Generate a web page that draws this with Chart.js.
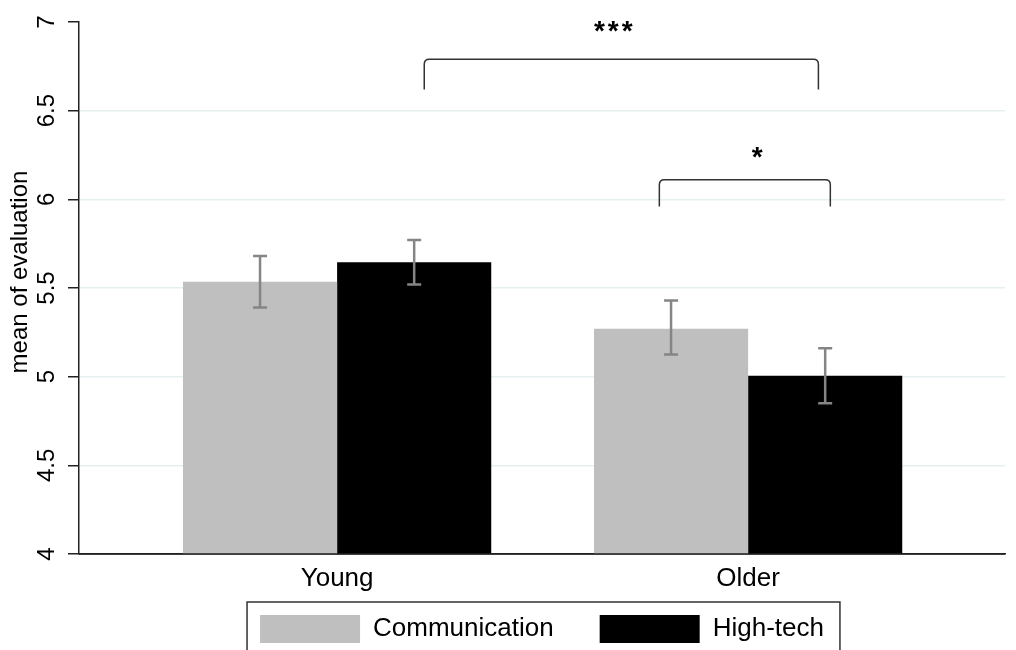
<!DOCTYPE html>
<html lang="en">
<head>
  <meta charset="UTF-8" />
  <title>Mean of evaluation by age</title>
  <script src="https://cdn.jsdelivr.net/npm/chart.js"></script>
  <style>
    html, body { margin: 0; padding: 0; background: #fff; }
    #wrap { width: 1016px; height: 650px; }
  </style>
</head>
<body>
  <div id="wrap"><canvas id="evalChart"></canvas></div>

  <script>
    const categories = ['Young', 'Older'];
    const seriesNames = ['Communication', 'High-tech'];
    const communication = [5.535, 5.27];
    const highTech = [5.645, 5.005];
    const commLow = [5.39, 5.125];
    const commHigh = [5.68, 5.43];
    const techLow = [5.52, 4.85];
    const techHigh = [5.77, 5.16];
    const yTicks = [4, 4.5, 5, 5.5, 6, 6.5, 7];
    const yTitle = 'mean of evaluation';

    // significance brackets (x in category units, y in evaluation units)
    const sigFrom = [1.212, 1.784];
    const sigTo = [2.171, 2.200];
    const sigTop = [6.79, 6.11];
    const sigLeg = [6.62, 5.96];
    const sigText = ['***', '*'];
    const sigTextX = [1.672, 2.022];
    const sigTextY = [6.9, 6.19];

    const FONT = "'Liberation Sans', Arial, sans-serif";
    Chart.defaults.font.family = FONT;

    const errorBars = {
      id: 'errorBars',
      afterDatasetsDraw(chart) {
        const ctx = chart.ctx, y = chart.scales.y;
        const lows = [commLow, techLow], highs = [commHigh, techHigh];
        ctx.save();
        ctx.strokeStyle = '#858585';
        ctx.lineWidth = 2.5;
        chart.data.datasets.forEach((ds, d) => {
          chart.getDatasetMeta(d).data.forEach((bar, i) => {
            const top = y.getPixelForValue(highs[d][i]);
            const bot = y.getPixelForValue(lows[d][i]);
            ctx.beginPath();
            ctx.moveTo(bar.x, top); ctx.lineTo(bar.x, bot);
            ctx.moveTo(bar.x - 7, top); ctx.lineTo(bar.x + 7, top);
            ctx.moveTo(bar.x - 7, bot); ctx.lineTo(bar.x + 7, bot);
            ctx.stroke();
          });
        });
        // redraw the x axis line over the bar bottoms
        const area = chart.chartArea;
        ctx.strokeStyle = '#222';
        ctx.lineWidth = 1.5;
        ctx.beginPath();
        ctx.moveTo(area.left, area.bottom);
        ctx.lineTo(area.right, area.bottom);
        ctx.stroke();
        ctx.restore();
      }
    };

    const brackets = {
      id: 'brackets',
      afterDraw(chart) {
        const ctx = chart.ctx, x = chart.scales.x, y = chart.scales.y;
        ctx.save();
        ctx.strokeStyle = '#333';
        ctx.lineWidth = 1.5;
        sigText.forEach((label, i) => {
          const x1 = x.getPixelForValue(sigFrom[i]);
          const x2 = x.getPixelForValue(sigTo[i]);
          const top = y.getPixelForValue(sigTop[i]);
          const leg = y.getPixelForValue(sigLeg[i]);
          const r = 5;
          ctx.beginPath();
          ctx.moveTo(x1, leg);
          ctx.lineTo(x1, top + r);
          ctx.quadraticCurveTo(x1, top, x1 + r, top);
          ctx.lineTo(x2 - r, top);
          ctx.quadraticCurveTo(x2, top, x2, top + r);
          ctx.lineTo(x2, leg);
          ctx.stroke();
          ctx.fillStyle = '#000';
          ctx.font = 'bold 28px ' + FONT;
          ctx.letterSpacing = '3px';
          ctx.textAlign = 'center';
          ctx.textBaseline = 'alphabetic';
          ctx.fillText(label, x.getPixelForValue(sigTextX[i]) + 1.5, y.getPixelForValue(sigTextY[i]));
          ctx.letterSpacing = '0px';
        });
        ctx.restore();
      }
    };

    // axis labels drawn at the scales' own tick positions
    const axisLabels = {
      id: 'axisLabels',
      afterDraw(chart) {
        const ctx = chart.ctx, x = chart.scales.x, y = chart.scales.y;
        const area = chart.chartArea;
        ctx.save();
        ctx.fillStyle = '#000';
        ctx.font = '24px ' + FONT;
        ctx.textAlign = 'center';
        ctx.textBaseline = 'middle';
        y.ticks.forEach(t => {
          ctx.save();
          ctx.translate(47, y.getPixelForValue(t.value));
          ctx.rotate(-Math.PI / 2);
          ctx.fillText(String(t.value), 0, 0);
          ctx.restore();
        });
        // axis title, a little above the middle as in the original
        ctx.save();
        ctx.translate(20, (area.top + area.bottom) / 2 - 16);
        ctx.rotate(-Math.PI / 2);
        ctx.fillText(yTitle, 0, 0);
        ctx.restore();

        ctx.font = '26px ' + FONT;
        ctx.textBaseline = 'alphabetic';
        x.ticks.forEach(t => {
          ctx.fillText(categories[t.value - 1], x.getPixelForValue(t.value), area.bottom + 32);
        });
        ctx.restore();
      }
    };

    const legendFrame = {
      id: 'legendFrame',
      afterDraw(chart) {
        const boxes = chart.legend && chart.legend.legendHitBoxes;
        if (!boxes || !boxes.length) return;
        const first = boxes[0], last = boxes[boxes.length - 1];
        const left = first.left - 13;
        const right = last.left + last.width + 16;
        const top = first.top - 13;
        const ctx = chart.ctx;
        ctx.save();
        ctx.strokeStyle = '#333';
        ctx.lineWidth = 1.5;
        ctx.strokeRect(left, top, right - left, 80);
        ctx.restore();
      }
    };

    new Chart(document.getElementById('evalChart'), {
      type: 'bar',
      data: {
        datasets: [
          {
            label: seriesNames[0],
            data: communication.map((v, i) => ({ x: i + 1, y: v })),
            backgroundColor: '#bfbfbf'
          },
          {
            label: seriesNames[1],
            data: highTech.map((v, i) => ({ x: i + 1, y: v })),
            backgroundColor: '#000000'
          }
        ]
      },
      options: {
        responsive: true,
        maintainAspectRatio: false,
        animation: false,
        categoryPercentage: 0.75,
        barPercentage: 1.0,
        layout: { padding: { top: 22, right: 11, bottom: -3, left: 0 } },
        plugins: {
          tooltip: { enabled: false },
          legend: {
            position: 'bottom',
            fullSize: false,
            labels: {
              boxWidth: 100,
              boxHeight: 28,
              padding: 46,
              color: '#000',
              font: { size: 26 }
            }
          }
        },
        scales: {
          x: {
            type: 'linear',
            offset: false,
            min: 0.372,
            max: 2.625,
            afterBuildTicks: s => { s.ticks = categories.map((c, i) => ({ value: i + 1 })); },
            afterFit: s => { s.height = 15; },
            ticks: { display: false },
            grid: { display: false, drawTicks: false, offset: false },
            border: { color: '#222', width: 1.5 }
          },
          y: {
            min: 4,
            max: 7,
            afterBuildTicks: s => { s.ticks = yTicks.map(v => ({ value: v })); },
            afterFit: s => { s.width = 79; },
            ticks: { display: false },
            grid: {
              color: c => (c.tick && (c.tick.value === 4 || c.tick.value === 7)) ? 'rgba(0,0,0,0)' : '#e6eff0',
              lineWidth: 1.5,
              tickLength: 11,
              tickColor: '#222',
              tickWidth: 1.5
            },
            border: { color: '#222', width: 1.5 }
          }
        }
      },
      plugins: [errorBars, brackets, axisLabels, legendFrame]
    });
  </script>
</body>
</html>
